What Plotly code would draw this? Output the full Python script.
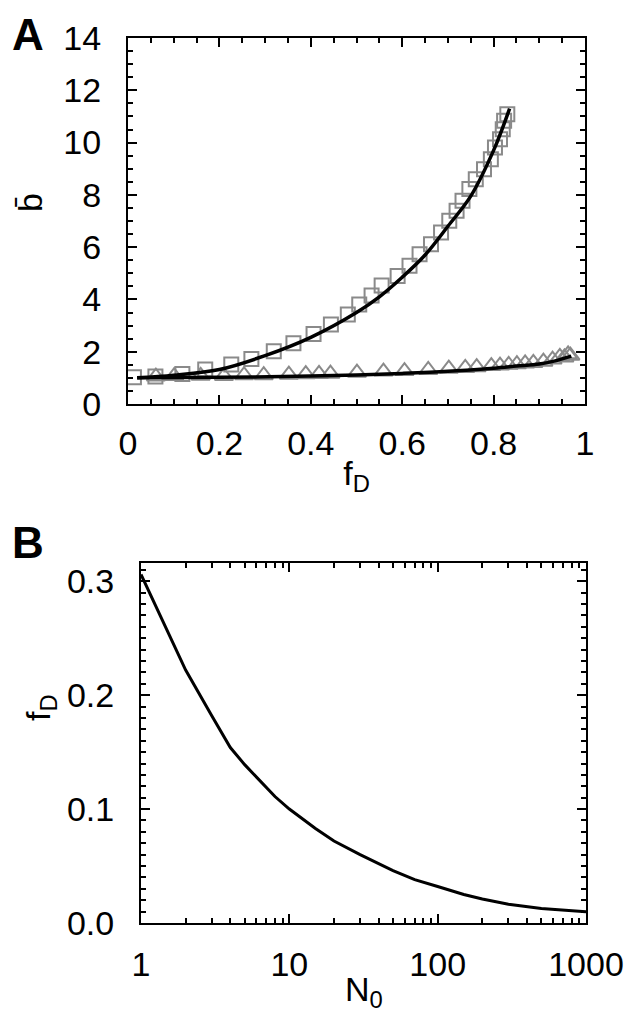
"""
Two-panel figure: mean burst size vs f_D (A) and f_D vs N_0 (B).
"""
import plotly.graph_objs as go

W, H = 632, 1014
FONT = "Liberation Sans, Arial, sans-serif"

# Panel A: simulation points (squares and triangles) and fitted curves
sq_f = [0.013, 0.060, 0.119, 0.169, 0.226, 0.270, 0.319, 0.362, 0.406, 0.444,
        0.481, 0.506, 0.533, 0.555, 0.590, 0.616, 0.638, 0.663, 0.685, 0.703,
        0.719, 0.732, 0.747, 0.761, 0.779, 0.794, 0.803, 0.814, 0.820, 0.823,
        0.830]
sq_b = [1.02, 1.05, 1.15, 1.32, 1.51, 1.72, 2.02, 2.32, 2.68, 3.04,
        3.42, 3.81, 4.15, 4.53, 4.90, 5.29, 5.73, 6.11, 6.56, 7.01,
        7.39, 7.77, 8.22, 8.60, 8.98, 9.36, 9.81, 10.13, 10.51, 10.83,
        11.08]

tri_f = [0.061, 0.101, 0.159, 0.210, 0.254, 0.297, 0.352, 0.389, 0.418, 0.443,
         0.501, 0.559, 0.605, 0.657, 0.702, 0.738, 0.763, 0.795, 0.814, 0.833,
         0.851, 0.869, 0.887, 0.909, 0.929, 0.945, 0.955, 0.963, 0.968]
tri_b = [1.05, 1.07, 1.08, 1.07, 1.10, 1.10, 1.12, 1.14, 1.15, 1.16,
         1.20, 1.24, 1.26, 1.30, 1.35, 1.38, 1.41, 1.45, 1.47, 1.50,
         1.52, 1.55, 1.57, 1.62, 1.70, 1.80, 1.78, 1.90, 1.85]

fit_sq_f = [0.02, 0.1, 0.2, 0.3, 0.4, 0.5, 0.55, 0.6, 0.65, 0.7, 0.75, 0.8, 0.835]
fit_sq_b = [1.0, 1.1, 1.32, 1.85, 2.55, 3.5, 4.1, 4.85, 5.7, 6.8, 7.95, 9.7, 11.3]

fit_tri_f = [0.02, 0.2, 0.4, 0.5, 0.55, 0.6, 0.7, 0.8, 0.85, 0.9, 0.93, 0.97]
fit_tri_b = [1.0, 1.02, 1.07, 1.11, 1.14, 1.17, 1.25, 1.37, 1.45, 1.53, 1.63, 1.83]

# Panel B: f_D as a function of N_0
n0 = [1, 2, 3, 4, 5, 6, 8, 10, 15, 20, 30, 50, 70, 100, 150, 200, 300, 500, 700, 1000]
fd = [0.306, 0.222, 0.182, 0.154, 0.139, 0.128, 0.111, 0.100, 0.083, 0.072,
      0.060, 0.046, 0.038, 0.032, 0.025, 0.021, 0.0165, 0.0128, 0.0112, 0.0099]

log_major = [1, 10, 100, 1000]
log_minor = [m * d for d in (1, 10, 100) for m in range(2, 10)]

GREY = "#8a8a8a"

fig = go.Figure()

fig.add_trace(go.Scatter(
    x=sq_f, y=sq_b, mode="markers",
    marker=dict(symbol="square-open", size=14, color=GREY, line=dict(width=2, color=GREY)),
    xaxis="x", yaxis="y",
))
fig.add_trace(go.Scatter(
    x=tri_f, y=tri_b, mode="markers",
    marker=dict(symbol="triangle-up-open", size=16, color=GREY, line=dict(width=2, color=GREY)),
    xaxis="x", yaxis="y",
))
fig.add_trace(go.Scatter(
    x=fit_sq_f, y=fit_sq_b, mode="lines", line=dict(color="black", width=3.5, shape="spline"),
    xaxis="x", yaxis="y",
))
fig.add_trace(go.Scatter(
    x=fit_tri_f, y=fit_tri_b, mode="lines", line=dict(color="black", width=3.5, shape="spline"),
    xaxis="x", yaxis="y",
))
fig.add_trace(go.Scatter(
    x=n0, y=fd, mode="lines", line=dict(color="black", width=3),
    xaxis="x2", yaxis="y2",
))

axis_common = dict(
    showline=True, linecolor="black", linewidth=2, mirror="ticks",
    ticks="inside", tickcolor="black", tickwidth=2, ticklen=9,
    showgrid=False, zeroline=False, automargin=False,
    tickfont=dict(family=FONT, size=34, color="black"),
    title_font=dict(family=FONT, size=34, color="black"),
)
minor_common = dict(ticks="inside", ticklen=5, tickwidth=2, tickcolor="black", showgrid=False)


def label(text, x_px, y_px, size=34, angle=0, **kw):
    """Free text placed in page pixels (from top-left)."""
    return dict(text=text, x=x_px / W, y=1 - y_px / H, xref="paper", yref="paper",
                showarrow=False, textangle=angle,
                font=dict(family=FONT, size=size, color="black"), **kw)


fig.update_layout(
    width=W, height=H,
    margin=dict(l=0, r=0, t=0, b=0),
    paper_bgcolor="white", plot_bgcolor="white",
    showlegend=False,
    xaxis=dict(
        axis_common,
        domain=[120 / W, 577 / W], range=[0, 1], dtick=0.2, tickformat="~g",
        minor=dict(minor_common, dtick=0.05),
        ticklabelstandoff=8,
        title=dict(text="f<sub>D</sub>", standoff=0),
        anchor="y",
    ),
    yaxis=dict(
        axis_common,
        domain=[1 - 396 / H, 1 - 30 / H], range=[0, 14], dtick=2,
        minor=dict(minor_common, dtick=0.5),
        ticklabelstandoff=18,
        anchor="x",
    ),
    xaxis2=dict(
        axis_common,
        type="log", domain=[133 / W, 578 / W], range=[0, 3],
        tickvals=log_major, ticktext=[str(v) for v in log_major],
        minor=dict(minor_common, tickmode="array", tickvals=log_minor),
        ticklabelstandoff=10,
        anchor="y2",
    ),
    yaxis2=dict(
        axis_common,
        domain=[1 - 915 / H, 1 - 555 / H], range=[0, 0.316], dtick=0.1, tickformat=".1f",
        minor=dict(minor_common, dtick=0.01),
        ticklabelstandoff=18,
        anchor="x2",
    ),
    annotations=[
        label("<b>A</b>", 2, 0, size=44, xanchor="left", yanchor="top"),
        label("<b>B</b>", 2, 508, size=44, xanchor="left", yanchor="top"),
        # axis titles placed by hand (margins are zero, so plotly titles get squeezed)
        label("b\u0304", 22, 195, angle=-90, xanchor="center", yanchor="middle"),
        label("f<sub>D</sub>", 32, 700, angle=-90, xanchor="center", yanchor="middle"),
        label("N<sub>0</sub>", (133 + 578) / 2, 1007, xanchor="center", yanchor="bottom"),
    ],
)

fig.write_html("out.html")
